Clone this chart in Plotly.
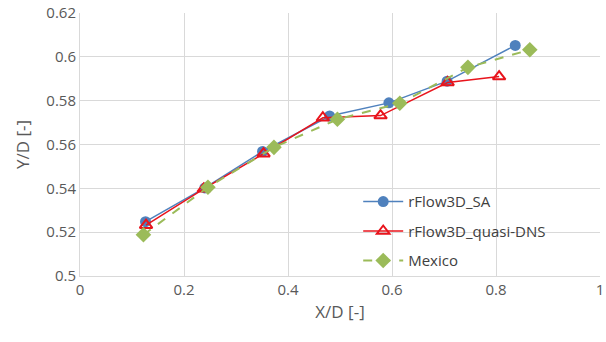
import plotly.graph_objects as go

sa_x = [0.126, 0.240, 0.351, 0.480, 0.594, 0.706, 0.837]
sa_y = [0.5248, 0.5402, 0.5568, 0.5730, 0.5790, 0.5889, 0.6052]

dns_x = [0.127, 0.238, 0.353, 0.467, 0.578, 0.707, 0.806]
dns_y = [0.5232, 0.5398, 0.5558, 0.5722, 0.5732, 0.5883, 0.5910]

mex_x = [0.122, 0.246, 0.373, 0.495, 0.615, 0.746, 0.865]
mex_y = [0.5188, 0.5405, 0.5587, 0.5715, 0.5788, 0.5952, 0.6032]

x_ticks = [0, 0.2, 0.4, 0.6, 0.8, 1]
x_labels = ["0", "0.2", "0.4", "0.6", "0.8", "1"]
y_ticks = [0.5, 0.52, 0.54, 0.56, 0.58, 0.6, 0.62]
y_labels = ["0.5", "0.52", "0.54", "0.56", "0.58", "0.6", "0.62"]

fig = go.Figure()
fig.add_trace(go.Scatter(x=sa_x, y=sa_y, mode="lines+markers", name="rFlow3D_SA",
                         legendgroup="a",
                         line=dict(color="#4f81bd", width=1.5),
                         marker=dict(symbol="circle", size=11, color="#4f81bd")))
fig.add_trace(go.Scatter(x=dns_x, y=dns_y, mode="lines+markers", name="rFlow3D_quasi-DNS",
                         legendgroup="b",
                         line=dict(color="#e8141c", width=1.5),
                         marker=dict(symbol="triangle-up-open", size=11, color="#e8141c",
                                     line=dict(width=2, color="#e8141c"))))
fig.add_trace(go.Scatter(x=mex_x, y=mex_y, mode="lines+markers", name="Mexico",
                         legendgroup="c",
                         line=dict(color="#9bbb59", width=2, dash="dash"),
                         marker=dict(symbol="diamond", size=12, color="#9bbb59")))

font = "Open Sans, Liberation Sans, sans-serif"
fig.update_layout(
    width=606, height=342,
    margin=dict(l=80, r=6, t=13, b=66),
    paper_bgcolor="white", plot_bgcolor="white",
    font=dict(family=font, color="#595959", size=14),
    showlegend=True,
    legend=dict(x=0.535, y=0.345, xanchor="left", yanchor="top",
                bgcolor="rgba(255,255,255,0)", font=dict(size=15, color="#404040"),
                tracegroupgap=7, itemwidth=40),
    xaxis=dict(range=[0, 1], tickvals=x_ticks, ticktext=x_labels,
               showgrid=True, gridcolor="#d9d9d9", gridwidth=1,
               zeroline=False, showline=True, linecolor="#d9d9d9",
               ticks="", ticklen=0, ticklabeloverflow="allow", automargin=False,
               tickfont=dict(size=15),
               title=dict(text="X/D [-]", font=dict(size=17, color="#595959"), standoff=8)),
    yaxis=dict(range=[0.5, 0.62], tickvals=y_ticks, ticktext=y_labels,
               showgrid=True, gridcolor="#d9d9d9", gridwidth=1,
               zeroline=False, showline=True, linecolor="#d9d9d9",
               ticks="", ticklen=0, tickfont=dict(size=15), automargin=False,
               title=dict(text="Y/D [-]", font=dict(size=17, color="#595959"), standoff=12)),
)
fig.write_html("out.html")
